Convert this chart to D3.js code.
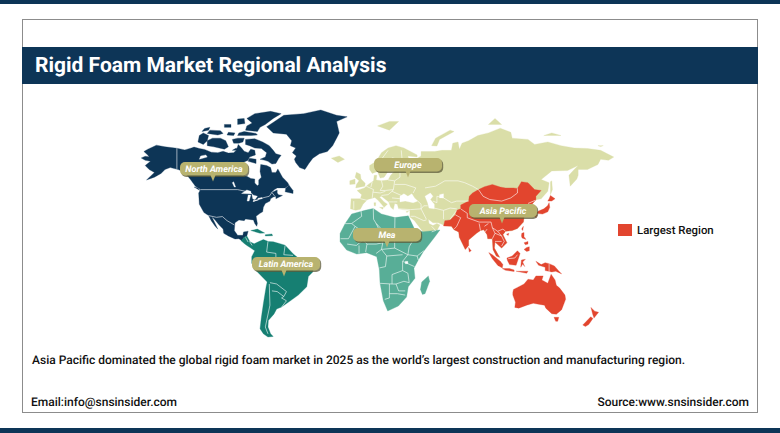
<!DOCTYPE html>
<html>
<head>
<meta charset="utf-8">
<script src="https://cdn.jsdelivr.net/npm/d3@7"></script>
<style>
  html, body { margin: 0; padding: 0; background: #fff; }
  svg { display: block; font-family: Roboto, sans-serif; text-rendering: geometricPrecision; }
</style>
</head>
<body>
<div id="chart"></div>
<script>
// texts
const titleText = 'Rigid Foam Market Regional Analysis'
const noteText = 'Asia Pacific dominated the global rigid foam market in 2025 as the world\u2019s largest construction and manufacturing region.'
const emailText = 'Email:info@snsinsider.com'
const sourceText = 'Source:www.snsinsider.com'
const legendText = 'Largest Region'
const regionNames = ['North America', 'Latin America', 'Europe', 'Mea', 'Asia Pacific']

// outlines below are [lon, lat]
const northAmerica = [
  [[-168,65.6],[-165,66.4],[-162,66.2],[-163.5,67.2],[-166,68.5],[-163,69.5],[-156.5,71.2],[-150,70.5],[-141,69.9],[-135,69.2],[-130,70],[-128,70.4],[-124,69.8],[-120,69.4],[-115,68.2],[-110,68],[-106,68.6],[-102,67.8],[-98,68],[-96,69],[-94.5,71.5],[-92,70],[-90,68.6],[-87,68],[-85,69.5],[-82,69],[-81.5,67],[-86,66],[-87,64.5],[-91,63.5],[-94,61],[-94.5,59],[-92,57],[-88,56.5],[-85,55.3],[-82,55],[-82,52.8],[-80,51.2],[-79,52],[-79,54.5],[-77,56],[-78,59],[-77.5,62.5],[-73,62],[-70,61],[-69,58.5],[-66,58.5],[-64.5,60.3],[-61,56],[-57,53],[-56,51.5],[-59,50],[-65,50],[-67,49],[-70,47],[-65,48.8],[-65,47],[-64,46],[-61,45.5],[-66,43.5],[-66,45],[-68,44.5],[-70,43.5],[-70.5,42],[-74,40.5],[-75.5,38],[-76,35],[-78,34],[-81,32],[-80,27],[-80.5,25],[-82,27],[-83,29.5],[-85,29.7],[-89,30.2],[-90,29],[-94,29.5],[-97,27.5],[-97.5,22],[-95,18.5],[-91,18.5],[-90.5,21],[-87,21.5],[-88,18],[-90,17],[-92,14.6],[-94,16],[-97,15.8],[-102,18],[-105.5,20],[-106,23],[-109,26],[-112.5,30],[-114.5,31.5],[-112,27],[-110,23],[-112,25],[-115,29],[-117,32.5],[-120.5,34.5],[-124,40],[-124.5,47],[-123,49],[-127,51],[-131,55],[-135,58.5],[-140,60],[-146,61],[-150,60],[-153,58],[-158,56],[-164,54.5],[-158,58.5],[-162,60],[-165,62],[-161,64],[-165,64.5]],
  [[-89,73.5],[-82,73.8],[-76,72.5],[-71,71],[-68,69],[-66,67.5],[-62,66.8],[-64,65.2],[-66,63],[-69,62.7],[-72,64],[-75,64.6],[-78,65],[-74,66],[-73,68],[-77,69.8],[-82,70],[-86,71],[-89,71.5]],
  [[-118,71],[-113,70.5],[-105,69.5],[-102,70.5],[-104,73],[-108,74],[-114,74],[-118,73]],
  [[-125,72.5],[-121,71.5],[-118,73],[-117,75],[-121,76],[-124,75]],
  [[-118,75.8],[-110,75.2],[-106,75.8],[-108,76.8],[-116,77]],
  [[-122,76.5],[-117,77],[-116,78],[-120,77.6]],
  [[-95,75],[-85,75],[-80,75.2],[-81,75.8],[-90,76.5],[-94,76]],
  [[-89,77],[-80,76.5],[-78,78],[-74,79],[-68,81],[-62,82.5],[-70,83.2],[-82,82.5],[-88,81],[-84,79.5],[-88,78.5]],
  [[-95,79],[-89.5,79.3],[-90,81],[-95,80.8]],
  [[-98,72],[-94,72],[-91,72.5],[-90,74],[-95,74],[-99,73.5]],
  [[-103,75.2],[-98,75],[-97,76],[-102,76.2]],
  [[-99,69],[-95,69],[-96,70]],
  [[-87,64],[-81,63],[-81,65],[-86,65.5]],
  [[-59,47.7],[-53,46.7],[-53,48.5],[-56,51.5],[-58.5,50]],
  [[-105,78],[-100,78],[-100,79],[-105,79]],
  [[-128,50.5],[-123.5,48.5],[-125,50]],
  [[-73,78.2],[-67,80],[-60,82],[-45,82.5],[-32,83.6],[-20,82],[-12,81.5],[-20,80],[-18,76],[-20,74],[-23,71],[-27,68.5],[-33,67.5],[-38,65.5],[-41,63],[-44,60],[-48,61],[-51,63.5],[-52,65],[-50.5,66.5],[-53.5,68],[-51,70],[-55,71],[-54,73],[-58,75.5],[-68,76]]
]

const latinAmerica = [
  [[-92.5,14.6],[-90,17],[-88,18],[-85.6,13.7],[-82.5,12.2],[-79.3,13.7],[-75.5,15.4],[-71.7,13.9],[-67.9,13.7],[-59,11.2],[-52.8,4.5],[-49,1.5],[-44,-2.4],[-37.6,-6],[-38,-9],[-41.4,-12.4],[-42.6,-20],[-49,-26],[-55,-30],[-61.7,-34.3],[-65.4,-35.5],[-67.4,-38.8],[-71.7,-43],[-72,-47],[-70,-51],[-68,-52.5],[-72,-52.8],[-75.5,-51],[-78,-48],[-77,-41],[-75.5,-32],[-73.4,-20],[-72.6,-16.5],[-80.5,-8.5],[-84.3,-2.4],[-84.3,2.5],[-82,7],[-85,9],[-88,11],[-90,12.5]],
  [[-85,22],[-80,23],[-74.5,20.2],[-78,20]],
  [[-74,19],[-69,19.5],[-68.5,18.2],[-74,18]]
]

const mea = [
  [[-17.4,19.9],[-13.6,26.9],[-8.6,33.6],[1.5,36],[7.8,37.3],[14,33.6],[24.2,31.1],[34.3,32.3],[39.4,22.4],[45.7,21.1],[58.3,22.4],[54.5,17.4],[45.7,6.2],[41.9,0],[38.6,-6.2],[39.4,-13.7],[34.3,-20],[33,-27.4],[26.8,-33.6],[18.7,-36.9],[15.4,-30],[12.9,-17.5],[12.4,-7.5],[10.4,2.5],[2.8,5.5],[-4.8,4.5],[-12.4,7.5],[-17.4,13.7]],
  [[49.5,-12],[50.5,-16],[47,-25],[45,-25.5],[43.5,-22],[44.5,-16.5]]
]

const eurasia = [
  [[-9.5,37],[-9,43.5],[-2,43.5],[-1,46],[-4.5,48.5],[1,50],[4,52],[8,54],[8.5,57],[10.5,57],[10,54.5],[14,54],[19,54.5],[21,57],[24,59.3],[29,60],[23,60],[21,61],[22,63],[25,65.5],[22,65.8],[18,62.5],[17,60],[18.5,58.5],[16,56],[13,55.5],[11,59],[7,58],[5,60],[5,62],[10,64],[14,68],[19,70],[25,71],[31,70],[41,67],[41,66],[34,66.5],[35,64],[40,65],[44,66.5],[44,68.5],[54,68.5],[60,69],[67,69],[68,72],[72,72.5],[73,69.5],[75,72],[80,73],[87,75],[95,76],[104,77.7],[112,76.2],[113,74],[125,73.5],[130,71.5],[140,72.5],[150,71],[160,70],[170,69.8],[180,69],[190,66],[186,64.5],[180,65],[178,62.5],[170,60],[163,60],[163,57],[162,55],[157,51],[156,57],[160,60],[163,62],[155,59.5],[143,59.3],[135,54.7],[141,53],[140,48],[135,43.5],[131,42.8],[128,40],[129.5,37],[129,35],[126.5,34.5],[126,37.5],[125,39.7],[121.5,39],[118,39],[119,37.5],[122.5,37],[119.5,35],[122,31],[121.5,28],[117,23.5],[113,22],[108,21.5],[106,19],[109,13],[105,9],[100,13.5],[99.5,9],[103.5,2],[101,3],[98.5,8],[98,16],[94.5,16],[94,19],[91.5,22.5],[89,22],[86,20],[80,15],[80,11],[77.5,8],[73,17],[72.5,21],[69,22.5],[67,25],[61,26],[57,27.5],[53,27.5],[49.5,30],[50,27],[53,25.5],[56,27],[58.3,26],[56,22],[52,21],[45.7,20.8],[43,24],[39,29],[35.5,31.5],[35.5,36],[30,36.5],[27,37],[26,40],[24,40.5],[23,36.5],[21,38],[19.5,41.5],[14,45],[12.5,44.5],[16,41.5],[18.5,40],[16,38],[12,42],[9,44.3],[3.5,43],[0,40],[-2,36.8],[-5.5,36]],
  [[-5.5,50],[1.3,51],[1.7,52.7],[-1.5,55],[-2,57.5],[-5,58.6],[-6,56],[-3,54],[-5,52]],
  [[-10,52],[-6,52.2],[-6,55],[-10,54]],
  [[-24,65.5],[-18,66.5],[-14,65],[-19,63.5]],
  [[11,78.5],[20,80],[27,80],[20,77]],
  [[52,71],[56,70.8],[58,73.5],[69,76.5],[66,77],[55,74]],
  [[95,79],[105,79],[100,81]],
  [[137,75],[150,75],[143,76]],
  [[178,71],[182,71],[180,70.6]],
  [[142,46],[143.5,49],[143,54],[142,53.5]],
  [[12.5,38],[15.5,38],[15,36.8]],
  [[8.3,41],[9.7,41],[9.5,39],[8.5,39]],
  [[32.5,35],[34.5,35.6],[33.5,34.6]]
]

const asiaPacific = [
  [[61,25.3],[62,29],[66,29.5],[70,33],[71,36],[74,37],[74,39.5],[80,42],[80.5,45],[83,47],[87.5,49],[92,50.7],[98,52],[104,50.5],[108,50],[114,50],[117,49.7],[120,53.5],[125,53],[130,49],[135,48.5],[131,45],[131,42.8],[128,40],[129.5,37],[129,35],[126.5,34.5],[126,37.5],[125,39.7],[121.5,39],[118,39],[119,37.5],[122.5,37],[119.5,35],[122,31],[121.5,28],[117,23.5],[113,22],[108,21.5],[106,19],[109,13],[105,9],[100,13.5],[99.5,9],[103.5,2],[101,3],[98.5,8],[98,16],[94.5,16],[94,19],[91.5,22.5],[89,22],[86,20],[80,15],[80,11],[77.5,8],[73,17],[72.5,21],[69,22.5],[67,25]],
  [[130.9,34],[136,33.5],[140,35],[141.5,38],[141,41],[139.8,39],[137,37],[133,35.5]],
  [[130,33.5],[132,33],[131,31],[130,32]],
  [[140,42],[143,42],[145.5,43.5],[142,45.5],[141,43.5]],
  [[120.2,23],[121.5,25],[121,22]],
  [[108.7,19.3],[110.5,20],[110,18.3]],
  [[120.3,20],[122,20.5],[122,17.5],[123.5,15.5],[120.5,16.5],[120,18]],
  [[122,8],[124,9.5],[126,10],[126,7],[124,6.5]],
  [[122,13],[125,14],[125,12],[123,11.5]],
  [[95.3,5.6],[98,4],[104,-1],[106,-3.5],[105.5,-6],[102,-4],[98,1]],
  [[105.5,-6.5],[111,-6.5],[114.5,-7.5],[114.5,-8.7],[108,-7.8]],
  [[109,1.5],[113,3],[117,7],[119,5],[117.7,1],[116,-4],[111,-3.5],[109.5,-0.5]],
  [[119.5,-5.5],[120,0],[123,0.5],[121,-1.5],[122.5,-5],[121,-3]],
  [[131,-1],[135,-3.5],[138,-2],[141,-2.8],[145,-4.5],[148,-8],[150.5,-10.5],[146,-8.5],[143,-9],[138,-8],[138,-5.5],[133,-4]],
  [[116,-8.5],[120,-8.5],[125,-8.5],[124,-10]],
  [[80,9.5],[82,7],[80.5,6]],
  [[113.5,-24],[114,-22],[117,-20.5],[122,-18],[125,-14.5],[129,-15],[131,-12],[136.5,-12],[135.5,-15],[140,-17.5],[142.5,-10.8],[145.5,-15],[146.5,-19],[149,-21],[153,-26],[153.5,-29],[150.5,-36],[146.5,-39],[143,-38.7],[138.5,-35],[137.5,-33],[134,-32.5],[129,-31.7],[124,-33],[118,-35],[115,-34.5],[115.5,-31],[113.5,-26]],
  [[144.7,-41],[148.3,-41],[147.5,-43.5],[146,-43.5]],
  [[172.7,-34.5],[175.5,-37],[178.5,-37.7],[175,-41.5],[174,-39]],
  [[172.5,-40.7],[174.2,-41.7],[171,-45.5],[168.5,-46.7],[166.5,-45.8]]
]

// lakes and inland seas
const waters = [
  [[-92,46.7],[-88,48.8],[-85,48],[-84.7,46.6],[-87,46.5]],
  [[-87.8,42],[-86.3,42],[-85,45.8],[-87,45.8]],
  [[-84,46],[-80,45],[-81.7,43],[-83.5,43.5]],
  [[-83.3,41.6],[-79,42.8],[-79,43],[-83,42.2]],
  [[-79.7,43.3],[-76.3,43.5],[-76.5,44.2],[-79.5,43.8]],
  [[-97.5,50.5],[-96.5,50.5],[-98,53.5],[-99,53]],
  [[-124,65],[-118,66],[-119,67],[-123,66.5]],
  [[-116,61],[-110,62.5],[-112,62.8],[-116,62]],
  [[28,41.5],[28,45],[31,46.5],[34,45],[37,46.5],[39,44],[41.5,42],[38,41],[32,42]],
  [[47,45],[51,47],[53,45],[51,43],[54,40],[54,37],[50,37.5],[49,41]],
  [[58,46],[61,46.5],[61,44],[58,44]],
  [[32,-1],[34,-1],[34,-2.8],[32,-2.8]]
]

// country borders
const borderLines = [
  // north america
  [[-141,69.9],[-141,60.3]],
  [[-123,49],[-95,49],[-89,48],[-84,46.5],[-82.5,43],[-83,42],[-79,43],[-76,44],[-71,45],[-69,47.3],[-67,45.2]],
  [[-117,32.5],[-111,31.3],[-106.5,31.8],[-103,29],[-97.5,26]],
  // latin america
  [[-72,14],[-73,6],[-66,5],[-66,0],[-72,0],[-78,-3]],
  [[-59,11],[-60,4],[-53,3.5]],
  [[-84,-1],[-78,0],[-72,2]],
  [[-71,-18],[-70.5,-33],[-74,-47],[-72,-51]],
  [[-70.5,-17],[-65.4,-18],[-58,-23.5],[-60,-27],[-65,-23.5],[-69,-23]],
  [[-60,-27],[-61.7,-28],[-58,-30],[-61.7,-34.3]],
  [[-89,17],[-87,13.5]],
  [[-86,14],[-84,11]],
  // africa
  [[-13.6,26.9],[-8.6,27],[-1,32],[-1.5,35.5]],
  [[7.8,37.3],[8,30],[10,27]],
  [[24.2,31.1],[24,20],[24,17]],
  [[24,20],[36,20]],
  [[-17,16],[-11,16],[-6,25],[-8.6,27]],
  [[-6,25],[3,19],[6,18],[12,23],[10,27],[14,23],[24,19]],
  [[14,23],[15,13],[10,12],[3,12],[0,15],[-5,11],[-12,12]],
  [[15,13],[14,8],[10,5]],
  [[14,8],[24,9],[24,12],[24,17]],
  [[24,9],[34,4],[35,10],[38,15]],
  [[34,4],[41,3],[46,7]],
  [[41,3],[41.9,0]],
  [[34,4],[30,-1],[30,-8],[22,-11],[22,-18],[12.9,-17.5]],
  [[30,-1],[39,-5]],
  [[18,3],[17,-5],[12.4,-6]],
  [[14,8],[18,3],[30,4]],
  [[30,-8],[34,-10],[35,-17],[31,-16],[25,-18],[22,-18]],
  [[20,-18],[20,-28],[16.5,-29]],
  [[25,-18],[27,-23],[32,-23]],
  [[20,-25],[26,-25],[32,-26]],
  [[-3,5],[-3,11]],
  [[2,6],[3,12]],
  // europe
  [[-7,37],[-7,42]],
  [[-2,43.5],[3,42.5]],
  [[2.5,51],[8,49],[7.5,47.5],[7,44]],
  [[7.5,47.5],[13,47],[17,48]],
  [[7,53.5],[6,50.5]],
  [[14,54],[15,51],[13,48.5],[17,48.5],[23,49],[24,54],[19,54.5]],
  [[23,49],[22,48],[29,45.5]],
  [[22,48],[19,46],[14,45.5]],
  [[22,44],[28,43.5]],
  [[19.5,41.5],[23,41.5],[26,41.5]],
  [[24,54],[28,56],[28,60]],
  [[24,52],[32,52],[40,50],[38,47]],
  [[29,69],[30,62],[28,60]],
  [[14,65],[19,69]],
  [[12,59],[13,63],[14,65]],
  // middle east and central asia
  [[27,37],[36,36.5],[44,37],[44,40],[41.5,42]],
  [[44,37],[48,30]],
  [[36,32],[39,32],[46,29],[48,29.5]],
  [[44,37],[46,39],[49,39]],
  [[52,21],[55,22],[52,25]],
  [[47,50],[55,51],[62,54],[72,54],[77,53],[83,51],[87.5,49]],
  [[53,42],[56,41],[56,45],[61,44],[67,41],[71,42],[80,42]],
  [[54,37.5],[61,36],[66,37.5],[71,37]],
  [[61,36],[61,30]],
  // asia pacific
  [[87.5,49],[91,45],[96,43],[105,42],[112,44],[117,47],[117,49.7]],
  [[74,37],[79,34],[79,31],[88,28],[97,28],[98,24],[102,21.5],[106,23],[108,21.5]],
  [[70,33],[74,31],[71,25],[69,23]],
  [[71,36],[66,30]],
  [[88,27],[89,22]],
  [[92,25],[95,27]],
  [[94,23],[92.5,21]],
  [[98,24],[100,20],[98,16]],
  [[100,20],[105,18],[107,14],[105,10.5]],
  [[102,21.5],[105,18]],
  [[100,14],[105,14]],
  [[125,40.5],[130.5,42.5]],
  [[126,38],[129,38]],
  [[141,-2.8],[141,-9]],
  [[110,1],[115,1.5],[117,4]]
]

const width = 780
const height = 433
const colors = {
  navy: '#0d3557', teal: '#157f72', green: '#58ae97', sand: '#dadea8',
  red: '#e2452f', label: '#b8b36f', shadow: '#5e5b3a', frame: '#8c8c8c', ink: '#111'
}

const svg = d3.select('#chart')
  .append('svg')
  .attr('width', width)
  .attr('height', height)

// the reference is a soft picture, take the edge off the outlines
svg.append('defs').append('filter')
  .attr('id', 'soft')
  .append('feGaussianBlur')
  .attr('stdDeviation', 0.3)

// page furniture
svg.append('rect').attr('width', width).attr('height', 4).attr('fill', colors.navy)
svg.append('rect').attr('y', 428).attr('width', width).attr('height', 5).attr('fill', colors.navy)
svg.append('rect')
  .attr('x', 22.5).attr('y', 19.5).attr('width', 735).attr('height', 393)
  .attr('fill', '#fff').attr('stroke', colors.frame)
svg.append('rect').attr('x', 22).attr('y', 47).attr('width', 736).attr('height', 37).attr('fill', colors.navy)
svg.append('text')
  .attr('x', 35).attr('y', 72)
  .attr('fill', '#fff').style('font-size', '21px').style('font-weight', 700)
  .text(titleText)

// miller style scales
const miller = (lat) => 1.25 * Math.log(Math.tan(Math.PI / 4 + 0.4 * lat * Math.PI / 180))
const xs = d3.scaleLinear().domain([-180, 190]).range([125.4, 613.8])
const ys = d3.scaleLinear().domain([-1, 1]).range([335.6, 184.4])
const line = d3.line().x((d) => xs(d[0])).y((d) => ys(miller(d[1])))
const ring = d3.line().x((d) => xs(d[0])).y((d) => ys(miller(d[1]))).curve(d3.curveLinearClosed)

const map = svg.append('g').attr('filter', 'url(#soft)')
function drawLand (rings, fill) {
  map.append('g').selectAll('path')
    .data(rings)
    .enter()
    .append('path')
    .attr('d', ring)
    .attr('fill', fill)
    .attr('stroke', fill)
    .attr('stroke-width', 0.3)
}
drawLand(eurasia, colors.sand)
drawLand(asiaPacific, colors.red)
drawLand(northAmerica, colors.navy)
drawLand(latinAmerica, colors.teal)
drawLand(mea, colors.green)
drawLand(waters, '#fff')

map.append('g').selectAll('path')
  .data(borderLines)
  .enter()
  .append('path')
  .attr('d', line)
  .attr('fill', 'none')
  .attr('stroke', '#fff')
  .attr('stroke-width', 0.7)
  .attr('stroke-opacity', 0.85)

// callouts: left, top of the bubble and x of the pointer
const calloutLayout = [[180, 162, 213], [252, 257, 284], [374, 158, 408], [353, 228, 387], [469, 204, 502]]
const bubbleW = 68
const bubbleH = 13.5
const callouts = svg.append('g').selectAll('g')
  .data(regionNames)
  .enter()
  .append('g')
callouts.append('rect')
  .attr('x', (d, i) => calloutLayout[i][0] + 1.2)
  .attr('y', (d, i) => calloutLayout[i][1] + 1.4)
  .attr('width', bubbleW).attr('height', bubbleH).attr('rx', 5)
  .attr('fill', colors.shadow).attr('opacity', 0.75)
callouts.append('rect')
  .attr('x', (d, i) => calloutLayout[i][0])
  .attr('y', (d, i) => calloutLayout[i][1])
  .attr('width', bubbleW).attr('height', bubbleH).attr('rx', 5)
  .attr('fill', colors.label)
callouts.append('path')
  .attr('d', (d, i) => {
    const tip = calloutLayout[i][2]
    const base = calloutLayout[i][1] + bubbleH - 0.5
    return `M${tip - 2.5},${base}L${tip + 2.5},${base}L${tip},${base + 6.5}Z`
  })
  .attr('fill', colors.label)
callouts.append('text')
  .attr('x', (d, i) => calloutLayout[i][0] + bubbleW / 2)
  .attr('y', (d, i) => calloutLayout[i][1] + 10)
  .attr('text-anchor', 'middle')
  .attr('fill', '#fff')
  .style('font-size', '9px').style('font-weight', 700).style('font-style', 'italic')
  .text((d) => d)

// legend
svg.append('rect').attr('x', 618).attr('y', 224).attr('width', 14).attr('height', 12).attr('fill', colors.red)
svg.append('text')
  .attr('x', 637).attr('y', 233.5)
  .attr('fill', colors.ink).style('font-size', '11.4px').style('font-weight', 500)
  .text(legendText)

// footer
svg.append('text')
  .attr('x', 32).attr('y', 364)
  .attr('fill', colors.ink).style('font-size', '12px').style('font-weight', 500)
  .text(noteText)
svg.append('text')
  .attr('x', 31).attr('y', 406)
  .attr('fill', colors.ink).style('font-size', '12px').style('font-weight', 500)
  .text(emailText)
svg.append('text')
  .attr('x', 749).attr('y', 406)
  .attr('text-anchor', 'end')
  .attr('fill', colors.ink).style('font-size', '12px').style('font-weight', 500)
  .text(sourceText)
</script>
</body>
</html>
